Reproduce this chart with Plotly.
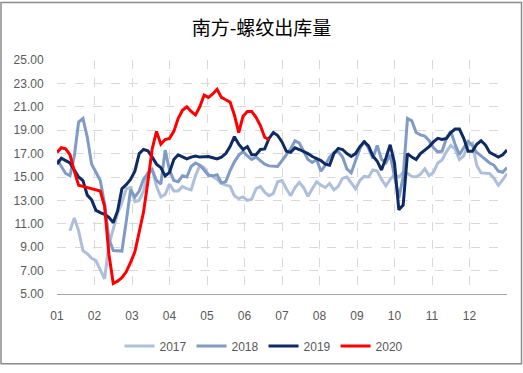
import plotly.graph_objects as go

# ---- data (half-week sampling; x in months from Jan 1) ----
months = ["01", "02", "03", "04", "05", "06", "07", "08", "09", "10", "11", "12"]
step = 12 / 104

start_2017 = 3
v2017 = [10.4, 11.5, 10.4, 8.7, 8.45, 8.05, 7.85, 7.0, 6.3, 9.2,
         10.6, 11.9, 12.8, 14.0, 14.1, 12.9, 13.0, 13.8, 15.4, 15.7,
         14.2, 13.3, 13.5, 14.4, 13.8, 13.8, 14.2, 14.0, 13.9, 15.1,
         16.0, 15.8, 15.2, 15.05, 14.8, 14.45, 14.3, 14.2, 13.4, 13.15,
         13.3, 13.0, 13.1, 14.0, 14.2, 13.7, 13.4, 13.6, 14.6, 14.7,
         14.0, 13.4, 14.1, 14.55, 14.1, 13.35, 14.0, 14.6, 14.3, 14.1,
         14.45, 13.9, 14.2, 14.9, 15.0, 14.5, 14.0, 14.7, 15.05, 15.0,
         15.6, 15.5, 14.8, 14.25, 14.8, 15.2, 15.0, 15.4, 15.3, 15.05,
         15.0, 15.25, 15.7, 15.1, 15.4, 16.2, 16.45, 17.15, 17.7, 17.4,
         16.5, 16.8, 17.7, 17.9, 16.0, 15.35, 15.35, 15.3, 14.9, 14.3,
         14.75, 15.3]

start_2018 = 0
v2018 = [16.5, 15.85, 15.3, 15.1, 16.8, 19.7, 20.0, 18.4, 16.1, 15.4,
         14.7, 12.7, 9.7, 8.72, 8.7, 8.67, 11.2, 13.9, 13.3, 13.8,
         14.8, 15.3, 15.6, 14.7, 14.4, 17.3, 15.6, 14.7, 14.6, 15.1,
         15.0, 15.9, 16.2, 16.0, 15.6, 15.15, 15.1, 15.2, 14.5, 14.6,
         15.55, 16.3, 16.85, 17.2, 16.8, 16.5, 16.7, 16.4, 16.1, 15.95,
         15.9, 15.9, 16.4, 16.9, 17.4, 18.1, 17.9, 17.2, 16.5, 16.25,
         16.5, 15.5, 16.0, 16.7, 17.1, 17.15, 16.7, 15.7, 15.35, 16.4,
         17.4, 18.1, 17.45, 16.6, 17.7, 16.5, 16.2, 16.9, 15.2, 13.2,
         15.0, 20.0, 19.8, 18.8, 18.6, 18.5, 18.1, 17.5, 17.15, 17.2,
         18.3, 18.9, 17.8, 16.9, 17.5, 18.05, 17.7, 17.1, 16.8, 16.5,
         16.2, 16.0, 15.5, 15.4, 15.8]

start_2019 = 0
v2019 = [16.1, 16.6, 16.4, 16.2, 15.6, 15.0, 14.7, 13.45, 13.05, 12.15,
         11.95, 11.8, 11.55, 11.1, 12.1, 14.0, 14.35, 14.8, 15.5, 17.0,
         17.35, 17.25, 16.7, 16.1, 15.8, 15.1, 15.4, 16.5, 16.9, 16.75,
         16.55, 16.7, 16.8, 16.7, 16.75, 16.75, 16.65, 16.55, 16.7, 17.0,
         17.6, 18.45, 17.8, 17.35, 17.6, 16.9, 16.9, 17.35, 17.4, 18.3,
         18.8, 18.55, 18.0, 17.2, 17.1, 17.5, 17.35, 17.2, 17.0, 16.75,
         16.6, 16.4, 16.1, 16.0, 17.0, 17.45, 17.35, 17.0, 16.75, 17.0,
         17.6, 18.0, 17.65, 16.8, 16.35, 15.6, 16.6, 17.75, 16.2, 12.2,
         12.6, 17.0, 16.7, 16.5, 17.0, 17.3, 17.6, 18.0, 18.3, 18.2,
         18.3, 18.8, 19.1, 19.1, 18.3, 17.2, 17.2, 17.8, 18.1, 17.75,
         17.1, 16.9, 16.7, 16.9, 17.3]

start_2020 = 0
v2020 = [17.1, 17.5, 17.4, 16.9, 15.5, 14.3, 14.2, 14.1, 14.0, 13.9,
         13.8, 12.5, 8.4, 5.9, 6.1, 6.4, 6.9, 7.7, 8.6, 10.3,
         12.0, 14.6, 17.4, 18.9, 17.8, 18.2, 18.3, 18.9, 20.0, 20.7,
         21.0, 20.6, 20.3, 21.0, 22.0, 21.8, 22.1, 22.5, 21.8, 21.6,
         21.4, 20.3, 18.8, 20.2, 20.6, 20.6, 20.1, 19.4, 18.4, 18.2]

series = [
    ("2017", start_2017, v2017, "#ADBFDA"),
    ("2018", start_2018, v2018, "#7F9BC6"),
    ("2019", start_2019, v2019, "#0E2B63"),
    ("2020", start_2020, v2020, "#FF0000"),
]

fig = go.Figure()
for name, start, vals, color in series:
    xs = [(start + i) * step for i in range(len(vals))]
    fig.add_trace(go.Scatter(
        x=xs, y=vals, mode="lines", name=name,
        line=dict(color=color, width=3),
        hoverinfo="skip",
    ))

grid = dict(showgrid=True, gridcolor="#D9D9D9", griddash="dash", gridwidth=1)

fig.update_layout(
    width=523, height=373,
    margin=dict(l=57, r=16, t=60, b=73),
    paper_bgcolor="white", plot_bgcolor="white",
    font=dict(family="Liberation Sans, Arial, sans-serif", size=12, color="#595959"),
    title=dict(text="南方-螺纹出库量", x=0.5, xanchor="center", y=0.925, yanchor="middle",
               font=dict(family="Noto Sans CJK SC", size=19, color="#000000")),
    showlegend=True,
    legend=dict(orientation="h", x=(264 - 57) / 450, xanchor="center", y=-0.222, yanchor="middle",
                font=dict(size=12, color="#595959"), itemwidth=30,
                bgcolor="rgba(0,0,0,0)"),
    xaxis=dict(range=[0, 12], tickvals=list(range(13)), ticktext=months + [""],
               showline=True, linecolor="#A6A6A6", linewidth=1,
               ticks="outside", ticklen=11, tickcolor="rgba(0,0,0,0)",
               zeroline=False, automargin=False, **grid),
    yaxis=dict(range=[5, 25], dtick=2, tick0=5, tickformat=".2f",
               showline=False, zeroline=False, automargin=False,
               ticks="outside", ticklen=10, tickcolor="rgba(0,0,0,0)",
               **grid),
    shapes=[dict(type="rect", xref="paper", yref="paper",
                 x0=(1 - 57) / 450, x1=(521.5 - 57) / 450,
                 y0=-(371.5 - 300) / 240, y1=1 + 59 / 240,
                 line=dict(color="#8C8C8C", width=1.5), fillcolor="rgba(0,0,0,0)",
                 layer="above")],
)

fig.write_html("out.html", config={"displayModeBar": False},
               post_script="document.body.style.margin='0';")
